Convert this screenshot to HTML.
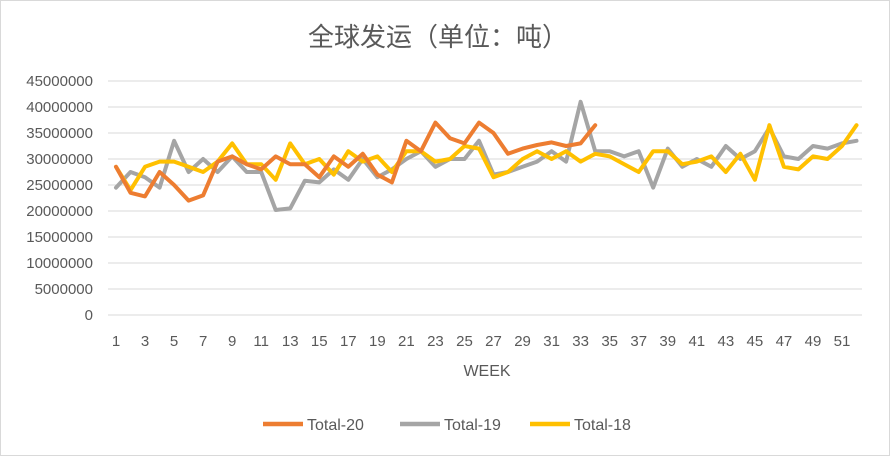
<!DOCTYPE html>
<html><head><meta charset="utf-8"><style>
body{margin:0;background:#fff;}
svg{display:block;font-family:"Liberation Sans","Noto Sans CJK SC",sans-serif;}
</style></head><body>
<svg width="890" height="456" id="c">
<rect x="0.5" y="0.5" width="889" height="455" fill="#fff" stroke="#d9d9d9"/>
<text x="438" y="46" text-anchor="middle" font-size="26" fill="#595959">全球发运（单位：吨）</text>
<g id="grid"></g><g id="ylab"></g><g id="xlab"></g><g id="series"></g>
<text x="487" y="376" text-anchor="middle" font-size="16" fill="#595959">WEEK</text>
<g font-size="16" fill="#595959">
<g><line x1="263" y1="424" x2="303" y2="424" stroke="#ED7D31" stroke-width="4.5"/><text x="307" y="430">Total-20</text></g>
<g><line x1="400" y1="424" x2="440" y2="424" stroke="#A5A5A5" stroke-width="4.5"/><text x="444" y="430">Total-19</text></g>
<g><line x1="530" y1="424" x2="570" y2="424" stroke="#FFC000" stroke-width="4.5"/><text x="574" y="430">Total-18</text></g>
</g>
</svg>
<script>
const weeks=Array.from({length:52},(_,i)=>i+1);
const yTicks=[0,5000000,10000000,15000000,20000000,25000000,30000000,35000000,40000000,45000000];
const total20=[28.5,23.5,22.8,27.5,25,22,23,29.5,30.5,29,28,30.5,29,29,26.5,30.5,28.5,31,27,25.5,33.5,31.5,37,34,33,37,35,31,32,32.7,33.2,32.5,33,36.5];
const total19=[24.5,27.5,26.5,24.5,33.5,27.5,30,27.5,30.5,27.5,27.5,20.2,20.5,25.8,25.5,28,26,30,26.5,28,30,31.5,28.5,30,30,33.5,27,27.5,28.5,29.5,31.5,29.5,41,31.5,31.5,30.5,31.5,24.5,32,28.5,30,28.5,32.5,30,31.5,36,30.5,30,32.5,32,33,33.5];
const total18=[28.5,24,28.5,29.5,29.5,28.5,27.5,29.5,33,29,29,26,33,29,30,27,31.5,29.5,30.5,27.5,31.5,31.5,29.5,30,32.5,32,26.5,27.5,30,31.5,30,31.5,29.5,31,30.5,29,27.5,31.5,31.5,29,29.5,30.5,27.5,31,26,36.5,28.5,28,30.5,30,32.5,36.5];
const NS='http://www.w3.org/2000/svg';
const X=w=>116+(w-1)*(842-116)/50;
const Y=v=>315-v*(315-81)/45000000;
function mk(t,a,p){const e=document.createElementNS(NS,t);for(const k in a)e.setAttribute(k,a[k]);p.appendChild(e);return e;}
const grid=document.getElementById('grid'),yl=document.getElementById('ylab'),xl=document.getElementById('xlab'),sg=document.getElementById('series');
yTicks.forEach(v=>{
 const l=mk('line',{x1:108,x2:862,y1:Y(v),y2:Y(v),stroke:'#d9d9d9','stroke-width':1},grid);
 
 
 const t=mk('text',{x:93,y:Y(v)+5,'text-anchor':'end','font-size':15,fill:'#595959'},yl);
 t.textContent=v;
 
 
});
weeks.forEach(w=>{if(w%2===1){
 const t=mk('text',{x:X(w),y:346,'text-anchor':'middle','font-size':15,fill:'#595959'},xl);
 t.textContent=w;
 
 
}});
[[total19,'#A5A5A5','total-19'],[total18,'#FFC000','total-18'],[total20,'#ED7D31','total-20']].forEach(([d,c,n])=>{
 const pts=d.map((v,i)=>X(weeks[i]).toFixed(1)+','+Y(v*1e6).toFixed(1)).join(' ');
 const p=mk('polyline',{points:pts,fill:'none',stroke:c,'stroke-width':4,'stroke-linejoin':'round','stroke-linecap':'round'},sg);
 
 
});
</script>
</body></html>
